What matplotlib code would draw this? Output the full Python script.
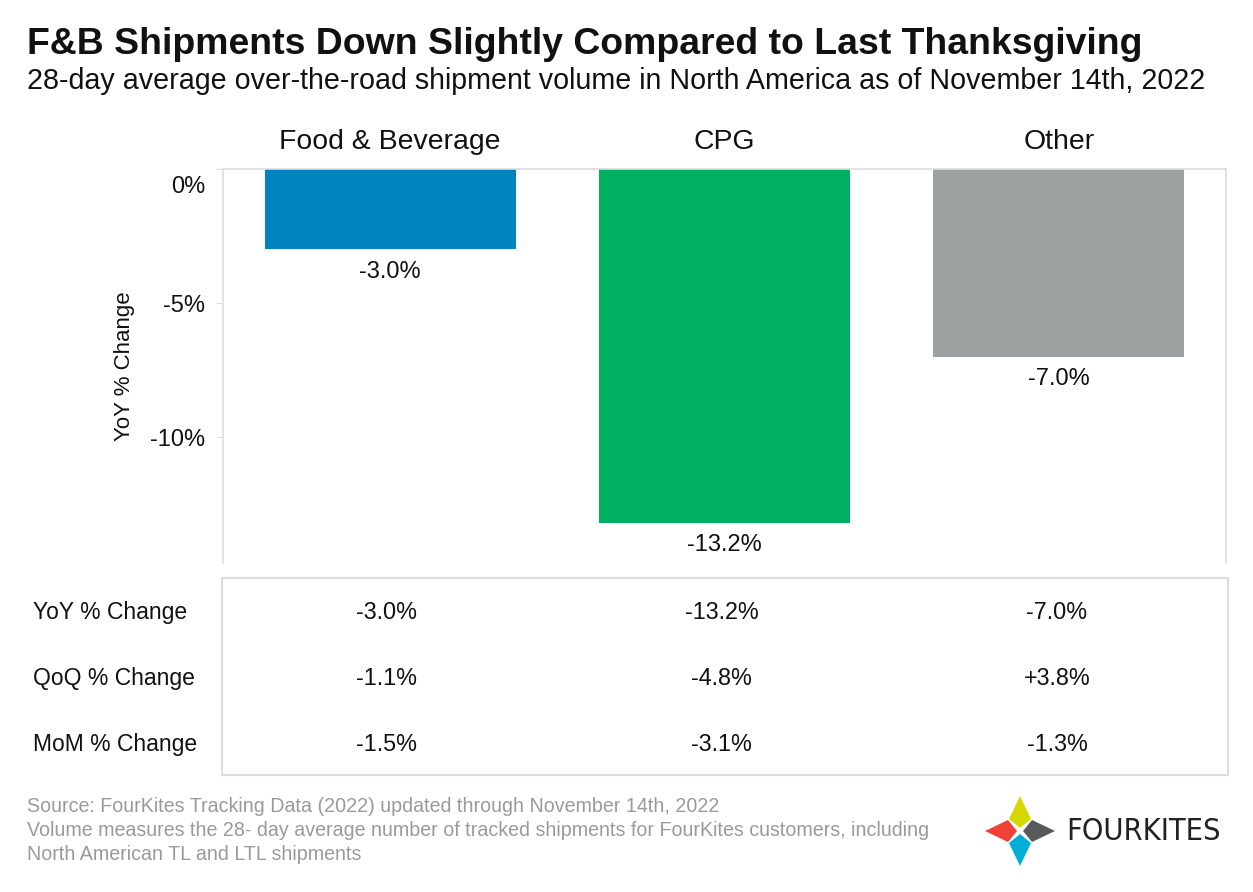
import matplotlib
matplotlib.use("Agg")
import matplotlib.pyplot as plt
from matplotlib.patches import Polygon

plt.rcParams['font.family'] = ['Liberation Sans', 'DejaVu Sans']

# data
categories = ["Food & Beverage", "CPG", "Other"]
yoy = [-3.0, -13.2, -7.0]
qoq = [-1.1, -4.8, 3.8]
mom = [-1.5, -3.1, -1.3]
row_labels = ["YoY % Change", "QoQ % Change", "MoM % Change"]
bar_colors = ["#0083be", "#00b061", "#9da1a1"]
yticks = [0, -5, -10]

W, H = 1253, 892
fig = plt.figure(figsize=(W / 100, H / 100), dpi=100)


def fx(px):
    return px / W


def fy(py):
    return 1 - py / H


def pct(v, sign=False):
    return ("%+.1f%%" if sign else "%.1f%%") % v


ink = "#111111"

# title block
fig.text(fx(27), fy(45), "F&B Shipments Down Slightly Compared to Last Thanksgiving",
         fontsize=26.9, fontweight="bold", va="center", ha="left", color=ink)
fig.text(fx(27), fy(81), "28-day average over-the-road shipment volume in North America as of November 14th, 2022",
         fontsize=20.6, va="center", ha="left", color=ink)

# bar chart
grid = "#dddddd"
ax = fig.add_axes([fx(223), fy(563), fx(1226) - fx(223), (563 - 169) / H])
x = list(range(len(categories)))
ax.bar(x, yoy, width=0.75, color=bar_colors)
for xi, v in zip(x, yoy):
    ax.annotate(pct(v), (xi, v), xytext=(0, -8), textcoords="offset points",
                ha="center", va="top", fontsize=17, color=ink)
    ax.annotate(categories[xi], (xi, 0), xytext=(0, 10), textcoords="offset points",
                ha="center", va="bottom", fontsize=20.4, color=ink, annotation_clip=False)
ax.set_xlim(-0.5, 2.5)
ax.set_ylim(-14.7, 0)
ax.set_yticks(yticks)
# 0% label sits below the top edge in the reference, so it is drawn separately
ax.set_yticklabels(["" if t == 0 else "%d%%" % t for t in yticks], fontsize=17, color=ink)
ax.annotate("0%", (0, 0), xycoords=("axes fraction", "data"), xytext=(-13, -5),
            textcoords="offset points", ha="right", va="top", fontsize=17, color=ink,
            annotation_clip=False)
ax.set_xticks([])
ax.tick_params(axis="y", length=5, color=grid, pad=8)
for s in ["left", "top", "right"]:
    ax.spines[s].set_color(grid)
    ax.spines[s].set_linewidth(1.2)
ax.spines["bottom"].set_visible(False)
ax.set_ylabel("YoY % Change", fontsize=16, color=ink, labelpad=11)

# table
tab = fig.add_axes([fx(222), fy(775), fx(1228) - fx(222), (775 - 578) / H])
tab.set_xlim(-0.5, 2.5)
tab.set_ylim(2.47, -0.53)
tab.set_xticks([])
tab.set_yticks([])
for s in tab.spines.values():
    s.set_color(grid)
    s.set_linewidth(1.5)
rows = [(yoy, False), (qoq, True), (mom, False)]
for ri, (vals, signed) in enumerate(rows):
    for ci, v in enumerate(vals):
        txt = pct(v, sign=(signed and v > 0))
        tab.text(ci - 0.01, ri, txt, ha="center", va="center", fontsize=16.8, color=ink)
    tab.annotate(row_labels[ri], (0, ri), xycoords=("figure fraction", "data"),
                 xytext=(33, 0), textcoords="offset pixels", ha="left", va="center",
                 fontsize=16.5, color=ink, annotation_clip=False)

# footer
foot = "#9a9a9a"
fig.text(fx(27), fy(806), "Source: FourKites Tracking Data (2022) updated through November 14th, 2022",
         fontsize=14.1, color=foot, va="center")
fig.text(fx(27), fy(831), "Volume measures the 28- day average number of tracked shipments for FourKites customers, including",
         fontsize=14.1, color=foot, va="center")
fig.text(fx(27), fy(855), "North American TL and LTL shipments",
         fontsize=14.1, color=foot, va="center")

# logo
cx, cy, r, g = 1020, 831, 35, 3
diamonds = [
    ("#d7d700", [(cx, cy - r), (cx + 11, cy - 12), (cx, cy - g), (cx - 11, cy - 12)]),
    ("#ef4137", [(cx - r, cy), (cx - 12, cy - 11), (cx - g, cy), (cx - 12, cy + 11)]),
    ("#58595b", [(cx + r, cy), (cx + 12, cy - 11), (cx + g, cy), (cx + 12, cy + 11)]),
    ("#00aed6", [(cx, cy + r), (cx + 11, cy + 12), (cx, cy + g), (cx - 11, cy + 12)]),
]
for col, pts in diamonds:
    fig.patches.append(Polygon([(fx(px), fy(py)) for px, py in pts], closed=True,
                               facecolor=col, edgecolor="none", transform=fig.transFigure))
fig.text(fx(1066), fy(832), "FOURKITES", fontsize=22, color="#222222", va="center", ha="left",
         family=["DejaVu Sans"], fontstretch="condensed")

fig.savefig("out.png", dpi=100)
